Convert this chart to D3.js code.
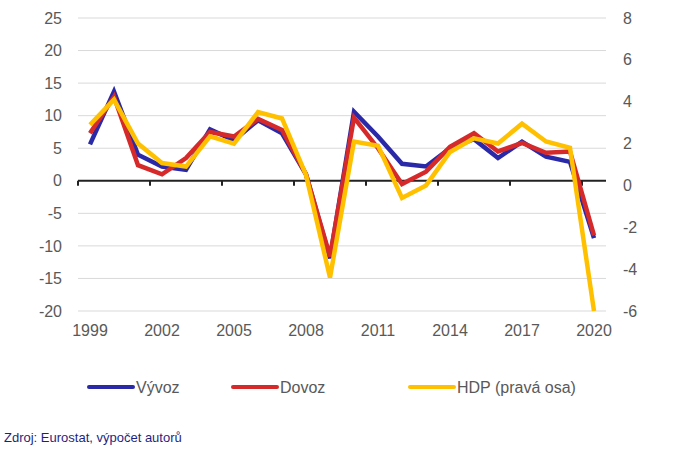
<!DOCTYPE html>
<html lang="cs">
<head>
  <meta charset="UTF-8">
  <title>Vývoz, dovoz a HDP</title>
  <script src="https://d3js.org/d3.v7.min.js"></script>
  <style>
    body {
      margin: 0;
      background: #fff;
      font-family: "Liberation Sans", Arial, sans-serif;
    }
    .tick text {
      font-size: 16px;
      fill: #595959;
    }
    .grid line {
      stroke: #d9d9d9;
      stroke-width: 1px;
    }
    .series {
      fill: none;
      stroke-width: 4.5px;
      stroke-linejoin: miter;
    }
    .legend text {
      font-size: 16px;
      fill: #595959;
    }
    .source {
      font-size: 13px;
      fill: #1f1f80;
    }
  </style>
</head>
<body>
  <svg id="chart" width="674" height="450"></svg>

  <script>
    // Data (meziroční změny v %)
    const years = d3.range(1999, 2021);
    const vyvoz = [5.6, 13.7, 4.0, 2.2, 1.7, 7.9, 6.2, 9.3, 7.3, 1.0, -11.9, 10.6, 6.8, 2.6, 2.2, 5.0, 6.4, 3.5, 6.0, 3.7, 2.9, -8.8];
    const dovoz = [7.3, 12.9, 2.4, 1.0, 3.5, 7.5, 6.8, 9.5, 7.8, 1.0, -11.6, 9.7, 5.0, -0.5, 1.4, 5.2, 7.3, 4.5, 5.8, 4.3, 4.5, -8.4];
    const hdp = [2.9, 4.1, 2.0, 1.07, 0.9, 2.35, 2.0, 3.5, 3.2, 0.5, -4.4, 2.1, 1.9, -0.6, 0.0, 1.6, 2.25, 2.0, 2.95, 2.1, 1.8, -6.0];

    const leftTicks = [25, 20, 15, 10, 5, 0, -5, -10, -15, -20];
    const rightTicks = [8, 6, 4, 2, 0, -2, -4, -6];
    const xTickYears = [1999, 2002, 2005, 2008, 2011, 2014, 2017, 2020];

    const svg = d3.select("#chart");

    // Plocha grafu
    const plotLeft = 78, plotRight = 606, plotTop = 18, plotBottom = 311;

    const x = d3.scaleBand()
      .domain(years)
      .range([plotLeft, plotRight])
      .padding(0);

    const yL = d3.scaleLinear().domain([-20, 25]).range([plotBottom, plotTop]);
    const yR = d3.scaleLinear().domain([-6, 8]).range([plotBottom, plotTop]);

    const cx = d => x(d) + x.bandwidth() / 2;
    const fmt = d => String(d); // obyčejný spojovník místo "−"

    // Mřížka
    svg.append("g")
      .attr("class", "grid")
      .selectAll("line")
      .data(leftTicks.filter(d => d !== 0))
      .join("line")
      .attr("x1", plotLeft)
      .attr("x2", plotRight)
      .attr("y1", d => yL(d))
      .attr("y2", d => yL(d));

    // Levá osa
    const axL = svg.append("g")
      .attr("transform", `translate(${plotLeft},0)`)
      .call(d3.axisLeft(yL).tickValues(leftTicks).tickFormat(fmt).tickSize(0).tickPadding(16));
    axL.select(".domain").remove();

    // Pravá osa
    const axR = svg.append("g")
      .attr("transform", `translate(${plotRight},0)`)
      .call(d3.axisRight(yR).tickValues(rightTicks).tickFormat(fmt).tickSize(0).tickPadding(17));
    axR.select(".domain").remove();

    // Osa X (na nule)
    const axX = svg.append("g")
      .attr("transform", `translate(0,${yL(0)})`);
    axX.append("line")
      .attr("x1", plotLeft).attr("x2", plotRight)
      .attr("stroke", "#222").attr("stroke-width", 2);
    axX.selectAll(".xt")
      .data(xTickYears)
      .join("line")
      .attr("class", "xt")
      .attr("x1", d => x(d)).attr("x2", d => x(d))
      .attr("y1", 0).attr("y2", 5)
      .attr("stroke", "#222").attr("stroke-width", 2);

    const axLabels = svg.append("g")
      .attr("transform", `translate(0,${plotBottom})`)
      .call(d3.axisBottom(x).tickValues(xTickYears).tickSize(0).tickPadding(14));
    axLabels.select(".domain").remove();

    // Řady
    const lineL = d3.line()
      .x((d, i) => cx(years[i]))
      .y(d => yL(d));
    const lineR = d3.line()
      .x((d, i) => cx(years[i]))
      .y(d => yR(d));

    svg.append("path").datum(vyvoz).attr("class", "series")
      .attr("stroke", "#2a2aa8").attr("d", lineL);
    svg.append("path").datum(dovoz).attr("class", "series")
      .attr("stroke", "#d62a2a").attr("d", lineL);
    svg.append("path").datum(hdp).attr("class", "series")
      .attr("stroke", "#ffc000").attr("d", lineR);

    // Legenda
    const legendItems = [
      { name: "Vývoz", color: "#2a2aa8", x: 89 },
      { name: "Dovoz", color: "#d62a2a", x: 233 },
      { name: "HDP (pravá osa)", color: "#ffc000", x: 410 }
    ];
    const lg = svg.append("g").attr("class", "legend");
    const item = lg.selectAll("g")
      .data(legendItems)
      .join("g")
      .attr("transform", d => `translate(${d.x},387)`);
    item.append("line")
      .attr("x1", 0).attr("x2", 44)
      .attr("stroke", d => d.color)
      .attr("stroke-width", 4)
      .attr("stroke-linecap", "round");
    item.append("text")
      .attr("x", 47)
      .attr("dy", "0.35em")
      .text(d => d.name);

    // Zdroj
    svg.append("text")
      .attr("class", "source")
      .attr("x", 4)
      .attr("y", 442)
      .text("Zdroj: Eurostat, výpočet autorů");
  </script>
</body>
</html>
